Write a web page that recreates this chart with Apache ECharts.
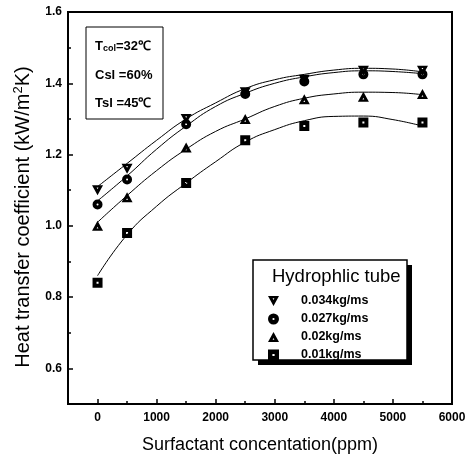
<html>
<head>
    <meta charset="utf-8" />
</head>
<body style="margin:0">
    <div id="chart" style="width:474px;height:464px"></div>
    <script src="https://cdn.jsdelivr.net/npm/echarts@6/dist/echarts.min.js"></script>
    <script>
        // measured points (surfactant ppm -> heat transfer coefficient)
        var concentration = [0, 500, 1500, 2500, 3500, 4500, 5500];
        var h034 = [1.10, 1.16, 1.30, 1.375, 1.41, 1.435, 1.435];
        var h027 = [1.06, 1.13, 1.285, 1.37, 1.405, 1.425, 1.425];
        var h020 = [1.00, 1.08, 1.22, 1.30, 1.355, 1.362, 1.37];
        var h010 = [0.84, 0.98, 1.12, 1.24, 1.28, 1.29, 1.29];

        // fitted curves
        var fitX = [0, 500, 1000, 1500, 2000, 2500, 3000, 3500, 4000, 4500, 5000, 5500];
        var fit034 = [1.11, 1.175, 1.24, 1.30, 1.345, 1.385, 1.41, 1.425, 1.437, 1.442, 1.44, 1.432];
        var fit027 = [1.07, 1.14, 1.215, 1.28, 1.335, 1.372, 1.40, 1.418, 1.43, 1.435, 1.433, 1.427];
        var fit020 = [1.01, 1.085, 1.155, 1.215, 1.265, 1.30, 1.335, 1.358, 1.37, 1.375, 1.374, 1.368];
        var fit010 = [0.86, 0.975, 1.055, 1.12, 1.18, 1.235, 1.27, 1.295, 1.307, 1.308, 1.298, 1.28];

        var seriesNames = ['0.034kg/ms', '0.027kg/ms', '0.02kg/ms', '0.01kg/ms'];
        var xTickLabels = [0, 1000, 2000, 3000, 4000, 5000, 6000];
        var xMinorTicks = [500, 1500, 2500, 3500, 4500, 5500];
        var yTickLabels = [0.6, 0.8, 1.0, 1.2, 1.4, 1.6];
        var yMinorTicks = [0.7, 0.9, 1.1, 1.3, 1.5];

        var FONT = "'Liberation Sans', Arial, sans-serif";
        var symDown = 'path://M0,0 L10,0 L5,9 Z M4.2,2 L5,3.6 L5.8,2 Z';
        var symUp = 'path://M5,0 L10,9 L0,9 Z M4.2,7 L5.8,7 L5,5.4 Z';
        var symSquare = 'path://M0,0 L10,0 L10,10 L0,10 Z M4,4 L4,6 L6,6 L6,4 Z';
        var symCircle = 'path://M5,0 A5,5 0 1,1 5,10 A5,5 0 1,1 5,0 Z M5,4 A1,1 0 1,0 5,6 A1,1 0 1,0 5,4 Z';
        var symbols = [symDown, symCircle, symUp, symSquare];
        var sizes = [[11, 10], 10, [11, 10], 10];

        function pairs(xs, ys) {
            return xs.map(function (x, i) { return [x, ys[i]]; });
        }

        var pointSets = [h034, h027, h020, h010];
        var fitSets = [fit034, fit027, fit020, fit010];

        var series = [];
        fitSets.forEach(function (f) {
            series.push({
                type: 'line', data: pairs(fitX, f), smooth: true, showSymbol: false, silent: true,
                lineStyle: { color: '#000', width: 1 }, z: 2
            });
        });
        pointSets.forEach(function (p, i) {
            series.push({
                name: seriesNames[i], type: 'scatter', data: pairs(concentration, p),
                symbol: symbols[i], symbolSize: sizes[i], itemStyle: { color: '#000', opacity: 1 }, z: 3
            });
        });

        var chart = echarts.init(document.getElementById('chart'));
        option = {
            backgroundColor: '#fff',
            animation: false,
            textStyle: { fontFamily: FONT },
            grid: { left: 68, right: 22, top: 12, bottom: 60, show: true, borderColor: '#000', borderWidth: 2 },
            xAxis: [{
                type: 'value', min: -500, max: 6000,
                name: 'Surfactant concentation(ppm)', nameLocation: 'middle', nameGap: 32,
                nameTextStyle: { fontSize: 18, color: '#000', fontFamily: FONT },
                axisLine: { show: true, onZero: false, lineStyle: { color: '#000', width: 2 } },
                axisTick: { inside: true, length: 5, customValues: xTickLabels, lineStyle: { color: '#000', width: 1.5 } },
                axisLabel: {
                    customValues: xTickLabels, color: '#000', fontWeight: 'bold', fontSize: 12, margin: 8, fontFamily: FONT,
                    formatter: function (v) { return String(v); }
                },
                splitLine: { show: false }
            }, {
                type: 'value', min: -500, max: 6000, position: 'bottom',
                axisLine: { show: false, onZero: false },
                axisTick: { inside: true, length: 3, customValues: xMinorTicks, lineStyle: { color: '#000', width: 1.5 } },
                axisLabel: { show: false }, splitLine: { show: false }
            }],
            yAxis: [{
                type: 'value', min: 0.5, max: 1.6,
                name: 'Heat transfer coefficient (kW/m{sup|2}K)', nameLocation: 'middle', nameGap: 33,
                nameTextStyle: {
                    fontSize: 20, color: '#000', fontFamily: FONT, padding: [0, 18, 0, 0],
                    rich: { sup: { fontSize: 13, color: '#000', fontFamily: FONT, verticalAlign: 'top', padding: [0, 0, 10, 0] } }
                },
                axisLine: { show: true, onZero: false, lineStyle: { color: '#000', width: 2 } },
                axisTick: { inside: true, length: 5, customValues: yTickLabels, lineStyle: { color: '#000', width: 1.5 } },
                axisLabel: {
                    customValues: yTickLabels, color: '#000', fontWeight: 'bold', fontSize: 12, margin: 6, fontFamily: FONT,
                    formatter: function (v) { return v.toFixed(1); }
                },
                splitLine: { show: false }
            }, {
                type: 'value', min: 0.5, max: 1.6, position: 'left',
                axisLine: { show: false, onZero: false },
                axisTick: { inside: true, length: 3, customValues: yMinorTicks, lineStyle: { color: '#000', width: 1.5 } },
                axisLabel: { show: false }, splitLine: { show: false }
            }],
            legend: {
                orient: 'vertical', left: 268, top: 294, itemWidth: 11, itemHeight: 11, itemGap: 4, padding: 0,
                data: seriesNames.map(function (n, i) { return { name: n, icon: symbols[i] }; }),
                itemStyle: { color: '#000' },
                textStyle: { fontSize: 12.5, lineHeight: 14, fontWeight: 'bold', color: '#000', fontFamily: FONT, padding: [0, 0, 0, 17] },
                z: 10
            },
            graphic: [
                { type: 'rect', shape: { x: 258, y: 265, width: 154, height: 100 }, style: { fill: '#000' }, z: 5 },
                { type: 'rect', shape: { x: 253, y: 260, width: 154, height: 100 }, style: { fill: '#fff', stroke: '#000', lineWidth: 1.5 }, z: 6 },
                { type: 'text', x: 272, y: 277, style: { text: 'Hydrophlic tube', fontSize: 18.5, fontFamily: FONT, fill: '#000', verticalAlign: 'middle' }, z: 7 },
                { type: 'rect', shape: { x: 86, y: 27, width: 77, height: 92 }, style: { fill: '#fff', stroke: '#000', lineWidth: 1 }, z: 6 },
                {
                    type: 'text', x: 95, y: 46, z: 7,
                    style: {
                        text: '{b|T}{s|col}{b|=32℃}', verticalAlign: 'middle',
                        rich: {
                            b: { fontSize: 13, fontWeight: 'bold', fontFamily: FONT, fill: '#000' },
                            s: { fontSize: 9, fontWeight: 'bold', fontFamily: FONT, fill: '#000', padding: [6, 0, 0, 0] }
                        }
                    }
                },
                { type: 'text', x: 95, y: 75, z: 7, style: { text: 'Csl =60%', fontSize: 13, fontWeight: 'bold', fontFamily: FONT, fill: '#000', verticalAlign: 'middle' } },
                { type: 'text', x: 95, y: 103, z: 7, style: { text: 'Tsl =45℃', fontSize: 13, fontWeight: 'bold', fontFamily: FONT, fill: '#000', verticalAlign: 'middle' } }
            ],
            series: series
        };
        chart.setOption(option);
    </script>
</body>
</html>
